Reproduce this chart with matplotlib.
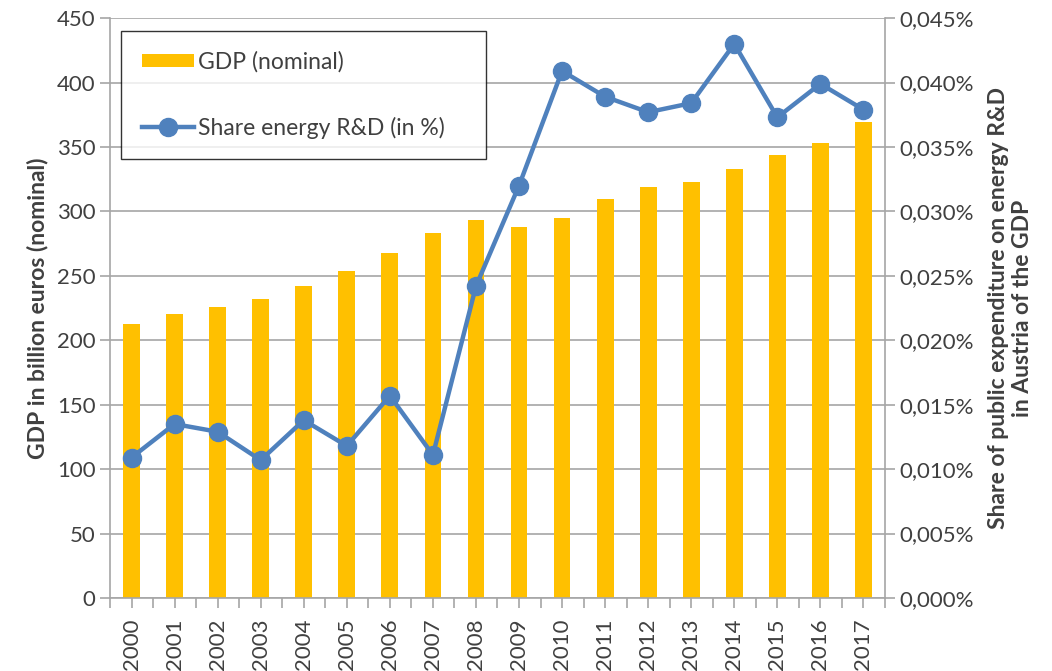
import numpy as np
import matplotlib.pyplot as plt
from matplotlib.ticker import FuncFormatter, MultipleLocator

plt.rcParams['font.family'] = ['Lato', 'DejaVu Sans']

# Data
years = [str(y) for y in range(2000, 2018)]
gdp = [213, 220, 226, 232, 242, 254, 268, 283, 293, 288, 295, 310, 319, 323, 333, 344, 353, 369]
share = [0.0109, 0.0135, 0.0129, 0.0107, 0.0138, 0.0118, 0.0157, 0.0111, 0.0242, 0.0320,
         0.0409, 0.0389, 0.0377, 0.0384, 0.0430, 0.0373, 0.0399, 0.0379]

bar_color = "#FFC000"
line_color = "#4F81BD"
text_color = "#404040"
grid_color = "#A6A6A6"

fig = plt.figure(figsize=(10.52, 6.71), dpi=100)
ax = fig.add_axes([0.1046, 0.1088, 0.7366, 0.8642])
ax2 = ax.twinx()

x = np.arange(len(years))
bars = ax.bar(x, gdp, width=0.39, color=bar_color, zorder=2, label="GDP (nominal)")
line, = ax2.plot(x, share, color=line_color, linewidth=3.2, marker="o", markersize=13,
                 zorder=3, label="Share energy R&D (in %)")

# Left axis
ax.set_xlim(-0.5, len(years) - 0.5)
ax.set_ylim(0, 450)
ax.yaxis.set_major_locator(MultipleLocator(50))
ax.grid(axis="y", color=grid_color, linewidth=1.2, zorder=0)
ax.set_axisbelow(True)
ax.set_ylabel("GDP in billion euros (nominal)", fontsize=16.5, fontweight="bold",
              color=text_color, labelpad=6)

# Right axis
ax2.set_ylim(0, 0.045)
ax2.yaxis.set_major_locator(MultipleLocator(0.005))
ax2.yaxis.set_major_formatter(FuncFormatter(lambda v, p: f"{v:.3f}%".replace(".", ",")))
ax2.set_ylabel("Share of public expenditure on energy R&D\nin Austria of the GDP",
               fontsize=16.5, fontweight="bold", color=text_color, labelpad=10)

# x ticks at category boundaries
ax.set_xticks(x)
ax.set_xticklabels(years, rotation=90)
ax.set_xticks(np.arange(-0.5, len(years)), minor=True)
ax.tick_params(axis="x", which="major", length=0, pad=8)
ax.tick_params(axis="x", which="minor", length=7, color=grid_color, width=1.2)

for a in (ax, ax2):
    for s in a.spines.values():
        s.set_visible(False)
    a.tick_params(labelsize=16, labelcolor=text_color, color=grid_color, width=1.2, length=7)
for a, side in ((ax, "left"), (ax2, "right"), (ax, "bottom")):
    a.spines[side].set_visible(True)
    a.spines[side].set_color(grid_color)
    a.spines[side].set_linewidth(1.2)

# Legend
leg = ax2.legend(handles=[bars, line], loc="upper left",
                 bbox_to_anchor=(0.014, 0.978, 0.471, 0.0), mode="expand",
                 borderaxespad=0, fontsize=16.5, frameon=True, fancybox=False,
                 edgecolor="black", labelspacing=1.9, handlelength=2.3, handleheight=0.5,
                 handletextpad=0.15, borderpad=0.9, labelcolor=text_color)
leg.get_frame().set_linewidth(1.0)

fig.savefig("out.png", dpi=100)
